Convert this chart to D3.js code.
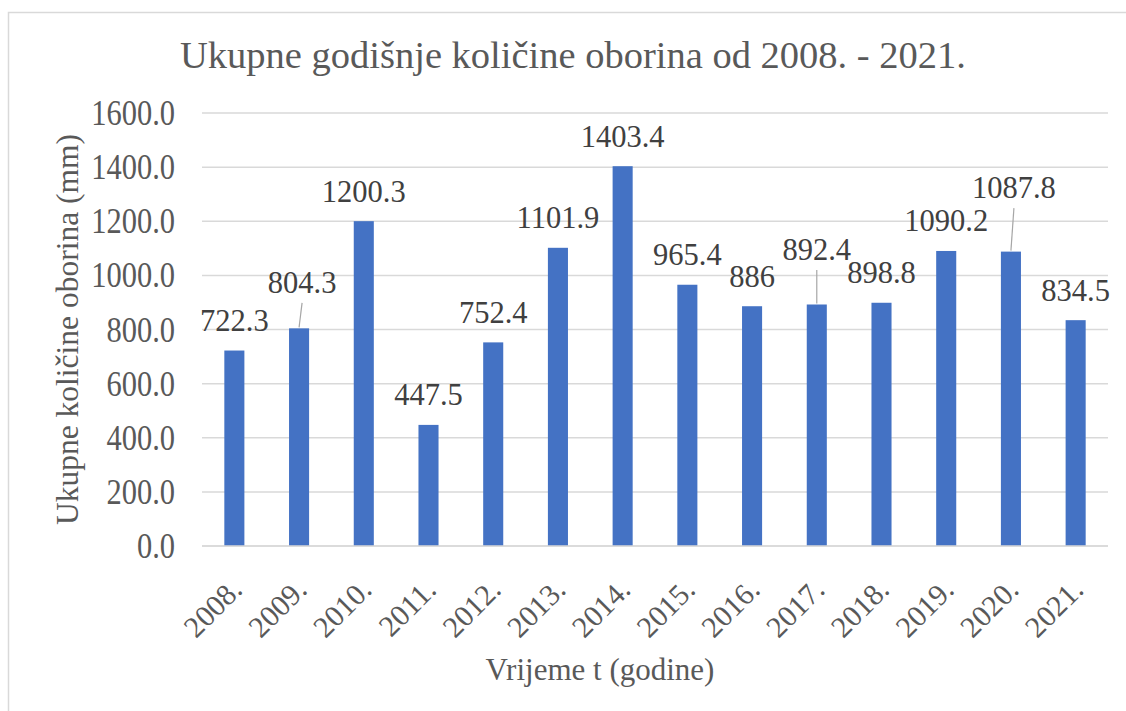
<html>
<head>
<script src="https://cdn.jsdelivr.net/npm/d3@7"></script>
</head>
<body style="margin:0">
<svg id="chart" width="1126" height="711"></svg>
<script>
// ---- data ----
const years = ["2008.", "2009.", "2010.", "2011.", "2012.", "2013.", "2014.",
               "2015.", "2016.", "2017.", "2018.", "2019.", "2020.", "2021."];
const precipitation = [722.3, 804.3, 1200.3, 447.5, 752.4, 1101.9, 1403.4,
                       965.4, 886, 892.4, 898.8, 1090.2, 1087.8, 834.5];
const valueLabels = ["722.3", "804.3", "1200.3", "447.5", "752.4", "1101.9", "1403.4",
                     "965.4", "886", "892.4", "898.8", "1090.2", "1087.8", "834.5"];
const yTicks = [0, 200, 400, 600, 800, 1000, 1200, 1400, 1600];
const titleText = "Ukupne godi\u0161nje koli\u010dine oborina od 2008. - 2021.";
const yTitle = "Ukupne koli\u010dine oborina (mm)";
const xTitle = "Vrijeme t (godine)";

// label placement adjustments (layout only): extra lift in px and x shift for moved labels
const labelMoves = { "2009.": {lift: 16, dx: 3}, "2017.": {lift: 25, dx: 0}, "2020.": {lift: 34, dx: 3} };

// ---- layout ----
const FONT = "Liberation Serif";
const svg = d3.select("#chart");
const plot = {left: 202, right: 1108, top: 113, bottom: 546};

svg.append("rect").attr("x", 8.5).attr("y", 12.5).attr("width", 1130).attr("height", 720)
  .attr("fill", "#fff").attr("stroke", "#d9d9d9").attr("stroke-width", 1.5);

const x = d3.scaleBand().domain(years).range([plot.left, plot.right]).paddingInner(0.69).paddingOuter(0.345);
const y = d3.scaleLinear().domain([0, 1600]).range([plot.bottom, plot.top]);

// gridlines
svg.append("g").selectAll("line").data(yTicks).join("line")
  .attr("x1", plot.left).attr("x2", plot.right)
  .attr("y1", d => y(d)).attr("y2", d => y(d))
  .attr("stroke", "#d9d9d9").attr("stroke-width", 1.5);

// y axis labels
const yAxis = d3.axisLeft(y).tickValues(yTicks).tickFormat(d3.format(".1f")).tickSize(0).tickPadding(0);
const gy = svg.append("g").attr("transform", `translate(175,0)`).call(yAxis);
gy.attr("font-family", FONT).attr("font-size", 30.5);
gy.select(".domain").remove();
gy.selectAll("text").attr("font-family", FONT).attr("font-size", 30.5)
  .attr("fill", "#595959").attr("x", 0).attr("dy", "0.32em")
  .attr("transform", "scale(1,1.18)");

// bars
svg.append("g").selectAll("rect").data(precipitation).join("rect")
  .attr("x", (d, i) => x(years[i]))
  .attr("width", x.bandwidth())
  .attr("y", d => y(d))
  .attr("height", d => y(0) - y(d))
  .attr("fill", "#4472C4");

// x axis
const xAxis = d3.axisBottom(x).tickSize(0).tickPadding(0);
const gx = svg.append("g").attr("transform", `translate(0,${plot.bottom})`).call(xAxis);
gx.attr("font-family", FONT).attr("font-size", 30);
gx.select(".domain").remove();
gx.selectAll("text")
  .attr("font-family", FONT).attr("font-size", 30).attr("fill", "#595959")
  .attr("text-anchor", "end")
  .attr("transform", "translate(2,38) rotate(-45)")
  .attr("dy", "0.35em");
svg.append("line").attr("x1", plot.left).attr("x2", plot.right)
  .attr("y1", plot.bottom).attr("y2", plot.bottom)
  .attr("stroke", "#d9d9d9").attr("stroke-width", 1.5);

// data labels
const labG = svg.append("g");
precipitation.forEach((v, i) => {
  const yr = years[i];
  const mv = labelMoves[yr] || {lift: 0, dx: 0};
  const cx = x(yr) + x.bandwidth() / 2;
  const base = y(v) - 19.5 - mv.lift;
  labG.append("text").attr("x", cx + mv.dx).attr("y", base)
    .attr("font-family", FONT)
    .attr("text-anchor", "middle").attr("font-size", 30.5).attr("fill", "#404040")
    .text(valueLabels[i]);
  if (mv.lift > 0) {
    labG.append("line").attr("x1", cx + mv.dx).attr("y1", base + 10)
      .attr("x2", cx).attr("y2", y(v) - 1)
      .attr("stroke", "#a6a6a6").attr("stroke-width", 1.2);
  }
});

// titles
svg.append("text").attr("x", 180).attr("y", 68).attr("text-anchor", "start").attr("font-family", FONT)
  .attr("font-size", 38.5).attr("fill", "#595959").text(titleText);
svg.append("text").attr("transform", `translate(78,${(plot.top + plot.bottom) / 2}) rotate(-90)`).attr("font-family", FONT)
  .attr("text-anchor", "middle").attr("font-size", 31.5).attr("fill", "#595959").text(yTitle);
svg.append("text").attr("x", 600).attr("y", 680).attr("text-anchor", "middle").attr("font-family", FONT)
  .attr("font-size", 31).attr("fill", "#595959").text(xTitle);
</script>
</body>
</html>
